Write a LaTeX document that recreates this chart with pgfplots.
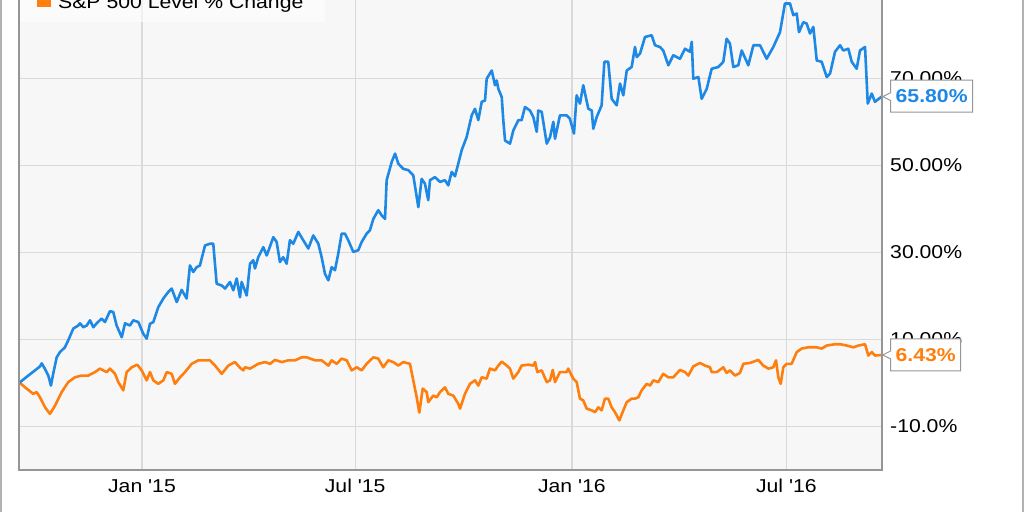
\documentclass[border=0pt]{standalone}
\usepackage{fontspec}
\setmainfont{Liberation Sans}
\usepackage{graphicx}
\usepackage{pgfplots}
\pgfplotsset{compat=1.18}
\usetikzlibrary{calc}
\definecolor{sblue}{RGB}{30,136,229}
\definecolor{sorange}{RGB}{255,127,14}
\definecolor{plotbg}{RGB}{247,247,247}
\definecolor{gridc}{RGB}{218,218,218}
\definecolor{framec}{RGB}{150,150,150}
\newcommand{\lblfont}{\fontsize{18.6}{20}\selectfont}
\newcommand{\sx}[1]{\scalebox{1.14}[1]{#1}}

\begin{document}
\begin{tikzpicture}
\useasboundingbox (0pt,0pt) rectangle (1024pt,512pt);
% x = days since 1 Jan 2015, y = % change
\begin{axis}[
  at={(19pt,42pt)}, anchor=south west,
  scale only axis, width=863pt, height=470pt,
  xmin=-104.4, xmax=628.2, ymin=-20, ymax=88,
  axis line style={draw=none},
  axis background/.style={fill=plotbg},
  grid=major,
  major grid style={gridc, line width=1.3pt},
  major tick length=0pt,
  tick style={draw=none},
  xtick={0,181,365,547},
  xticklabels={\sx{Jan \textquotesingle15}, \sx{Jul \textquotesingle15}, \sx{Jan \textquotesingle16}, \sx{Jul \textquotesingle16}},
  ytick={-10,10,30,50,70},
  yticklabels={\sx{-10.0\%}, \sx{10.00\%}, \sx{30.00\%}, \sx{50.00\%}, \sx{70.00\%}},
  yticklabel pos=right,
  xticklabel style={font=\lblfont, inner sep=0pt, anchor=north, yshift=-9pt},
  yticklabel style={font=\lblfont, inner sep=0pt, anchor=west, xshift=8pt},
]
% S&P 500 level % change
\addplot[sorange, line width=2.6pt, line join=round] table {
-103.6 0
-97.9 -1.3
-92.3 -2.5
-89.4 -2.1
-86.6 -3.3
-82.3 -5.6
-78.1 -7.1
-73.8 -5.2
-68.2 -2.1
-62.6 0.2
-56.9 1.3
-51.2 1.7
-45.6 1.7
-39.9 2.5
-35.7 3.3
-30.0 2.5
-27.2 3.3
-22.9 2.1
-20.1 0.2
-15.9 -1.7
-13.0 2.5
-8.7 3.6
-4.0 4.2
-0.3 2.9
4.0 0.6
6.8 2.5
9.6 0.6
13.8 -0.2
18.1 0.6
21.0 2.5
25.2 2.1
28.0 -0.2
32.3 1.3
36.5 2.5
42.2 4.4
47.8 5.2
53.5 5.2
57.7 5.2
62.0 4.0
67.7 2.1
73.3 4.0
78.9 4.8
83.2 3.5
86.0 2.9
87.4 3.6
91.7 3.3
98.7 4.4
104.4 4.8
108.7 4.4
112.9 5.3
118.6 4.8
124.2 5.2
129.9 5.2
135.6 5.9
139.8 5.9
146.9 5.2
152.5 5.2
158.2 4.0
161.0 5.2
165.3 4.4
169.5 5.6
173.8 5.2
178.0 2.9
182.3 3.6
186.5 2.9
190.7 4.4
196.4 5.9
200.6 5.6
204.8 3.6
209.1 5.2
213.3 4.8
217.6 4.0
221.8 4.8
227.5 4.4
230.3 0.6
233.2 -3.3
235.4 -6.8
238.3 -1.3
241.7 -2.1
243.0 -4.4
247.3 -2.9
250.2 -3.3
253.0 -2.1
257.2 -1.0
260.0 -2.5
264.3 -2.9
268.5 -4.8
270.0 -5.9
274.2 -2.5
278.4 -0.2
282.7 0.6
285.5 -0.6
288.4 1.3
292.6 1.0
295.4 3.3
299.7 2.9
302.5 4.0
305.4 4.9
309.6 4.0
312.4 3.3
315.2 1.0
319.5 2.5
322.3 4.0
327.9 4.2
332.2 4.0
333.7 4.8
335.6 2.5
339.3 2.9
343.6 0.2
346.4 0.6
348.7 3.0
350.6 0.2
354.8 2.5
360.5 2.5
361.8 3.3
366.1 1.0
369.0 0.2
371.8 -3.6
374.6 -4.0
377.5 -5.9
381.8 -6.3
384.6 -6.7
387.4 -5.6
390.2 -6.3
393.0 -3.6
395.8 -3.6
398.7 -5.6
401.5 -6.7
405.2 -8.6
408.6 -6.3
411.5 -4.4
415.7 -3.6
418.5 -3.6
421.3 -3.3
424.2 -1.7
428.4 -0.2
431.3 -0.6
434.1 0.6
438.3 0.2
442.5 2.1
446.8 1.3
451.0 1.3
456.7 3.0
461.0 2.5
463.8 1.7
468.0 3.8
473.7 4.6
477.9 4.0
482.2 3.6
483.6 2.5
487.9 2.5
493.5 3.6
496.3 2.3
499.1 2.9
503.4 1.7
507.6 2.3
510.5 4.4
516.1 4.6
523.2 5.3
527.4 4.0
531.7 3.3
535.9 3.6
538.2 5.2
540.2 1.3
542.2 -0.2
544.4 3.6
547.3 4.4
551.5 4.4
555.8 7.1
560.0 7.9
565.6 8.2
572.8 8.2
577.0 7.9
581.3 8.6
588.3 8.9
592.6 8.9
598.3 8.6
603.9 8.2
608.2 8.6
613.8 8.9
616.6 6.3
619.5 7.1
622.2 6.3
627.9 6.43
};
% stock % change
\addplot[sblue, line width=2.6pt, line join=round] table {
-104.4 0
-96.5 1.7
-90.8 2.9
-86.6 3.8
-85.1 4.5
-82.5 3.3
-79.5 1.7
-77.3 -0.6
-75.3 2.2
-72.4 5.9
-69.6 7.1
-65.4 8.2
-62.6 9.8
-58.3 12.5
-54.1 13.2
-52.6 13.7
-49.8 12.8
-46.9 13.2
-44.1 14.4
-41.3 12.8
-38.5 13.7
-34.2 14.8
-31.4 14.0
-27.2 16.5
-24.4 16.3
-21.5 13.2
-17.2 10.5
-14.4 13.7
-10.2 13.2
-7.4 14.4
-3.1 14.0
1.1 11.3
4.0 10.2
6.8 13.6
9.6 14.0
13.8 17.4
18.1 19.4
22.3 20.9
25.2 21.7
29.5 18.6
33.7 21.4
37.9 19.4
40.7 27.0
43.5 25.5
46.4 26.6
49.2 27.0
53.5 31.6
57.7 32.0
60.5 32.0
63.4 22.8
67.7 22.4
70.5 21.7
74.7 23.2
77.5 21.3
80.4 24.0
83.2 19.7
84.6 23.2
88.9 20.1
91.7 27.4
94.5 28.2
95.9 26.3
98.7 28.9
103.0 31.2
105.9 29.3
111.5 33.5
114.3 32.4
117.1 27.8
119.9 28.9
122.8 27.4
125.6 32.8
128.4 32.0
132.7 34.7
136.9 32.8
141.2 30.9
145.4 33.9
149.7 32.0
152.5 28.9
155.3 25.1
158.2 23.6
161.0 26.6
163.8 25.9
166.6 29.7
169.5 34.3
172.3 34.3
175.1 32.8
179.4 30.1
183.6 30.5
186.5 32.4
190.7 34.3
193.5 35.1
196.4 37.7
200.6 39.7
203.5 38.5
206.3 37.7
207.7 46.6
212.0 50.8
214.8 52.7
217.6 50.4
221.8 49.2
226.1 48.9
230.3 47.7
234.6 40.4
237.4 46.9
240.2 45.8
243.0 42.0
244.5 46.6
248.7 47.3
253.0 46.2
257.2 46.6
260.0 45.4
262.9 48.5
265.7 47.5
268.5 50.4
271.4 53.5
275.6 56.5
279.9 61.5
282.7 63.0
285.5 60.4
288.4 64.6
291.2 64.9
292.6 69.9
296.9 71.8
299.7 68.4
301.1 69.5
302.5 67.6
305.4 65.7
306.7 60.4
308.2 55.7
312.4 55.0
315.2 58.0
319.5 60.4
322.3 60.4
325.1 63.4
329.4 62.6
332.2 61.1
335.1 57.7
336.4 62.6
339.3 62.3
343.6 55.0
346.4 56.5
349.2 60.0
350.6 56.1
354.8 61.5
360.5 61.5
363.3 60.7
366.7 57.3
369.0 66.1
371.8 64.2
374.6 68.4
378.9 63.0
381.8 62.6
383.1 58.4
386.0 61.1
390.2 63.8
392.5 73.8
395.8 73.8
398.7 65.3
403.0 63.8
405.8 68.8
408.6 66.1
411.5 71.8
415.7 72.6
418.5 77.2
420.0 74.9
422.8 75.7
427.0 79.5
432.7 79.9
435.5 77.6
439.7 77.2
442.5 76.4
446.8 73.0
451.0 75.3
456.7 74.5
461.0 76.8
465.2 76.1
466.7 78.4
468.0 69.9
472.3 70.3
475.1 65.3
479.4 67.6
483.6 72.2
489.2 72.6
493.5 73.8
496.3 79.1
499.1 78.0
502.0 72.6
506.2 73.0
509.1 76.4
514.7 73.0
519.0 77.6
524.6 77.6
530.3 74.5
535.9 77.2
541.6 80.6
545.8 87.2
550.1 87.2
552.9 84.5
555.8 84.9
557.7 80.6
561.4 82.9
564.2 82.6
567.1 80.3
569.9 81.8
572.8 74.1
577.0 73.8
581.3 70.3
584.1 71.1
588.3 76.1
592.6 77.6
595.3 76.4
599.6 76.8
602.5 73.8
606.7 72.2
609.5 76.4
613.8 77.2
616.1 64.2
619.5 66.5
622.2 64.6
627.9 65.8
};
\coordinate (bend) at (axis cs:627.9,65.8);
\coordinate (oend) at (axis cs:627.9,6.43);
\end{axis}
% plot frame
\draw[framec, line width=1.5pt] (19pt,512pt) -- (19pt,42pt) -- (882pt,42pt) -- (882pt,512pt);
% outer frame
\draw[gray!60, line width=1.5pt] (1pt,0pt) -- (1pt,512pt);
\draw[gray!60, line width=1.5pt] (1023pt,0pt) -- (1023pt,512pt);
% legend, cut off at the top
\fill[white, opacity=0.6] (20pt,490pt) rectangle (325pt,512pt);
\fill[sorange] (37pt,505pt) rectangle (51pt,512pt);
\node[anchor=base west, inner sep=0pt, font=\lblfont] at (58pt,503.5pt) {\sx{S\&P 500 Level \% Change}};
% end-value callouts
\filldraw[fill=white, draw=framec, line width=1pt]
  ($(bend)+(1pt,0pt)$) -- ++(8pt,4pt) -- ++(0pt,12.5pt) -- ++(82pt,0pt)
  -- ++(0pt,-32pt) -- ++(-82pt,0pt) -- ++(0pt,11.5pt) -- cycle;
\node[font=\lblfont\bfseries, text=sblue, inner sep=0pt] at ($(bend)+(50pt,0.5pt)$) {\sx{65.80\%}};
\filldraw[fill=white, draw=framec, line width=1pt]
  ($(oend)+(1pt,0pt)$) -- ++(8pt,4pt) -- ++(0pt,12pt) -- ++(70pt,0pt)
  -- ++(0pt,-32pt) -- ++(-70pt,0pt) -- ++(0pt,12pt) -- cycle;
\node[font=\lblfont\bfseries, text=sorange, inner sep=0pt] at ($(oend)+(44pt,0pt)$) {\sx{6.43\%}};
\end{tikzpicture}
\end{document}
